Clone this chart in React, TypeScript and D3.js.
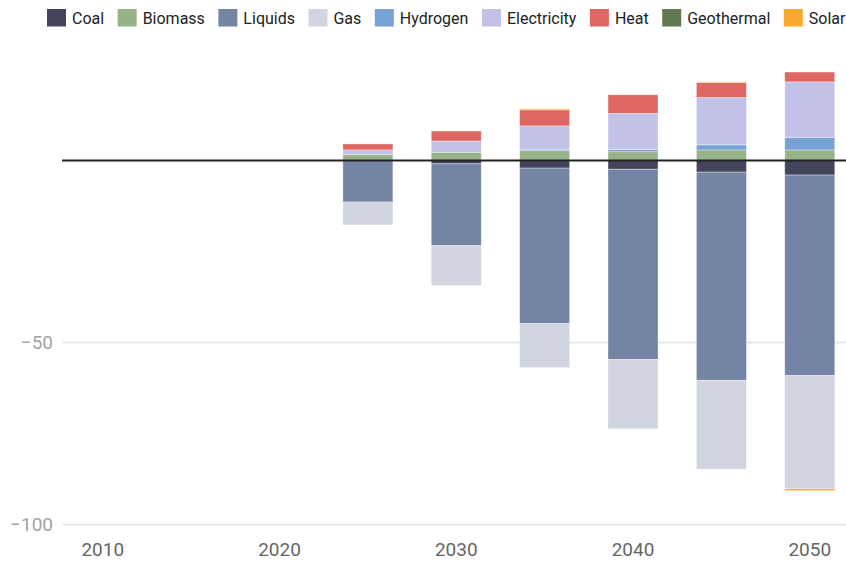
import * as d3 from "d3";
import { useMemo } from "react";

const WIDTH = 846;
const HEIGHT = 562;
const PLOT = { left: 63, right: 846, zeroY: 160.5, bottomY: 524.5 };
const FONT = "Roboto, 'Noto Sans', sans-serif";

const YEARS = [2025, 2030, 2035, 2040, 2045, 2050];
const X_TICKS = [2010, 2020, 2030, 2040, 2050];
const Y_TICKS = [-100, -50];

const SERIES = ["Coal", "Biomass", "Liquids", "Gas", "Hydrogen", "Electricity", "Heat", "Geothermal", "Solar"];
const COLORS = ["#42445b", "#97b287", "#7384a4", "#d1d5df", "#76a3d4", "#c2c1e8", "#de6763", "#617953", "#f9a92e"];

const coal = [0, -0.9, -2.1, -2.4, -3.2, -4.0];
const biomass = [1.6, 2.25, 2.7, 2.4, 2.9, 2.9];
const liquids = [-11.4, -22.5, -42.7, -52.3, -57.2, -55.1];
const gas = [-6.3, -10.9, -12.1, -19.0, -24.4, -31.1];
const hydrogen = [0, 0, 0.4, 0.65, 1.4, 3.4];
const electricity = [1.3, 3.1, 6.4, 9.9, 13.0, 15.3];
const heat = [1.65, 2.75, 4.4, 5.1, 4.1, 2.7];
const geothermal = [0, 0, 0, 0, 0, 0];
const solar = [0, 0, 0.3, 0, 0.2, -0.5];

const VALUES = [coal, biomass, liquids, gas, hydrogen, electricity, heat, geothermal, solar];

type Row = { year: number } & Record<string, number>;

const rows: Row[] = YEARS.map((year, i) => {
  const row: Row = { year } as Row;
  SERIES.forEach((name, s) => {
    row[name] = VALUES[s][i];
  });
  return row;
});

function textWidth(text: string, font: string): number {
  const ctx = document.createElement("canvas").getContext("2d");
  if (!ctx) return text.length * 8;
  ctx.font = font;
  return ctx.measureText(text).width;
}

export default function App() {
  const x = d3.scaleLinear().domain([2007.75, 2052.05]).range([PLOT.left, PLOT.right]);
  const y = d3.scaleLinear().domain([-100, 0]).range([PLOT.bottomY, PLOT.zeroY]);
  const barHalf = x(2011.415) - x(2010);

  const stacked = d3.stack<Row>().keys(SERIES).offset(d3.stackOffsetDiverging)(rows);

  const legend = useMemo(() => {
    let cursor = 47;
    return SERIES.map((name, i) => {
      const w = textWidth(name, `16px ${FONT}`);
      const item = { name, color: COLORS[i], x: cursor };
      cursor += 19 + 6 + w + 13.5;
      return item;
    });
  }, []);

  return (
    <svg
      width={WIDTH}
      height={HEIGHT}
      viewBox={`0 0 ${WIDTH} ${HEIGHT}`}
      style={{ position: "absolute", left: 0, top: 0, background: "#fff", fontFamily: FONT }}
    >
      {/* legend */}
      {legend.map((item) => (
        <g key={item.name} transform={`translate(${item.x} 9)`}>
          <rect width="19" height="17.5" fill={item.color} />
          <text x="25" y="9" dominantBaseline="central" fontSize="16" fill="#222">
            {item.name}
          </text>
        </g>
      ))}

      {/* grid */}
      {Y_TICKS.map((tick) => (
        <g key={tick}>
          <line x1={PLOT.left} x2={PLOT.right} y1={y(tick)} y2={y(tick)} stroke="#e8e8e8" strokeWidth="2" />
          <text x="53" y={y(tick)} dy="0.35em" textAnchor="end" fontSize="19" fill="#a3a3a3">
            {"\u2212" + Math.abs(tick)}
          </text>
        </g>
      ))}

      {/* bars */}
      {stacked.map((series, s) => (
        <g key={series.key} fill={COLORS[s]}>
          {series.map((d) => {
            const top = y(Math.max(d[0], d[1]));
            const h = Math.abs(y(d[0]) - y(d[1]));
            if (h <= 0) return null;
            return (
              <rect
                key={d.data.year}
                x={x(d.data.year) - barHalf}
                y={top}
                width={barHalf * 2}
                height={h}
                stroke="#fff"
                strokeOpacity="0.45"
                strokeWidth="0.8"
              />
            );
          })}
        </g>
      ))}

      {/* zero line */}
      <line x1={PLOT.left - 1} x2={PLOT.right} y1={y(0)} y2={y(0)} stroke="#222" strokeWidth="2" />

      {/* x axis labels */}
      {X_TICKS.map((tick) => (
        <text key={tick} x={x(tick)} y="556" textAnchor="middle" fontSize="19" fill="#666">
          {tick}
        </text>
      ))}
    </svg>
  );
}
